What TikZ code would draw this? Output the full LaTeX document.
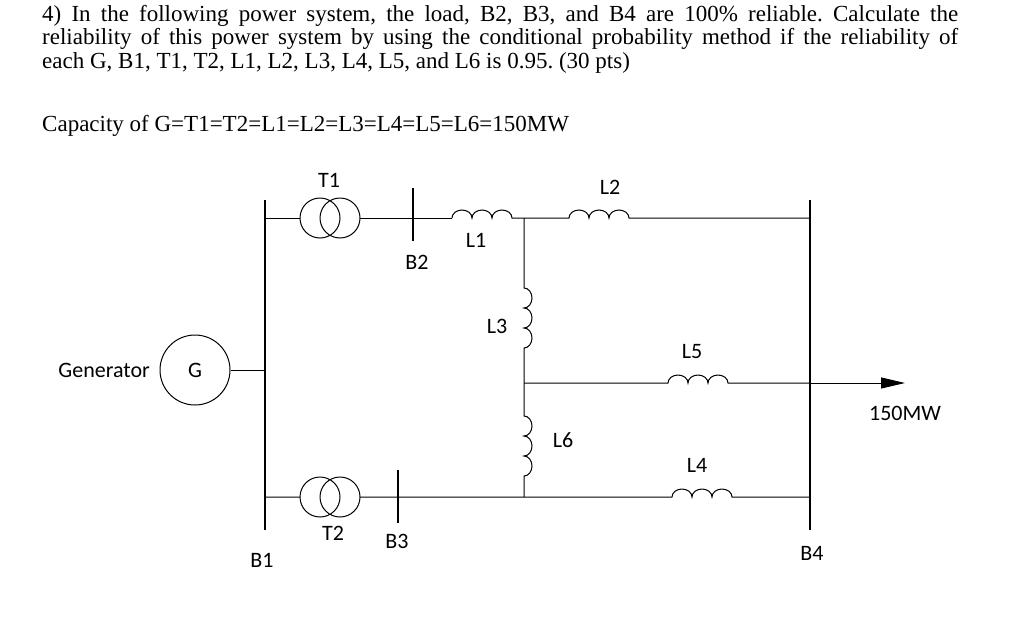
\documentclass[tikz,border=0pt]{standalone}
\usepackage{fontspec}
\setmainfont{Liberation Serif}
\newfontfamily\lbl{Carlito}
\usetikzlibrary{arrows.meta}
\frenchspacing
\begin{document}
\begin{tikzpicture}[x=1pt,y=-1pt,
  bus/.style={line width=2.4pt},
  wire/.style={line width=1pt},
  lab/.style={font=\lbl\fontsize{22}{22}\selectfont,inner sep=0pt},
  hdr/.style={anchor=north west,inner sep=0pt,font=\fontsize{23}{23.5}\selectfont,align=justify,text width=916pt}]
\useasboundingbox (0,0) rectangle (1024,621);
\node[hdr] (h) at (42,5) {4) In the following power system, the load, B2, B3, and B4 are 100\% reliable. Calculate the\linebreak reliability of this power system by using the conditional probability method if the reliability of\linebreak each G, B1, T1, T2, L1, L2, L3, L4, L5, and L6 is 0.95. (30 pts)};
\node[anchor=west,inner sep=0pt,font=\fontsize{23}{23.5}\selectfont] (cap) at (42,126) {Capacity of G=T1=T2=L1=L2=L3=L4=L5=L6=150MW};
% buses
\draw[bus] (265,200) coordinate (b1t) -- (265,530) coordinate (b1b);
\draw[bus] (810,200) -- (810,530);
\draw[bus] (413,188) -- (413,241);
\draw[bus] (398,470) -- (398,523);
% generator
\node[draw,wire,circle,minimum size=70pt,inner sep=0pt,lab] (G) at (195,370) {G};
\node[lab,anchor=east] (gen) at (150,370) {Generator};
\draw[wire] (G.east) -- (265,370);
% T1
\draw[wire] (320,218) circle (20) (340,218) circle (20);
\draw[wire] (265,218) -- (300,218) (360,218) -- (452,218);
% L1, L2
\draw[wire] (452,218) arc (180:360:10 and 8) arc (180:360:10 and 8) arc (180:360:10 and 8) -- (569,218)
  arc (180:360:10 and 8) arc (180:360:10 and 8) arc (180:360:10 and 8) -- (810,218);
% L3, L6
\draw[wire] (524,218) -- (524,288) arc (270:450:8 and 10) arc (270:450:8 and 10) arc (270:450:8 and 10) -- (524,416)
  arc (270:450:8 and 10) arc (270:450:8 and 10) arc (270:450:8 and 10) -- (524,497);
% L5
\draw[wire] (524,383) -- (668,383) arc (180:360:10 and 8) arc (180:360:10 and 8) arc (180:360:10 and 8) -- (810,383);
\draw[wire,-{Triangle[length=24pt,width=11pt]}] (810,383) -- (905,383);
% T2 and L4
\draw[wire] (320,497) circle (20) (340,497) circle (20);
\draw[wire] (265,497) -- (300,497) (360,497) -- (672,497) arc (180:360:10 and 8) arc (180:360:10 and 8) arc (180:360:10 and 8) -- (810,497);
% labels
\node[lab] at (329,180) {T1};
\node[lab] at (610,187) {L2};
\node[lab] at (476,240) {L1};
\node[lab] at (417,262) {B2};
\node[lab] at (497,326) {L3};
\node[lab] at (692,352) {L5};
\node[lab] at (905,413) {150MW};
\node[lab] at (563,440) {L6};
\node[lab] at (697,465) {L4};
\node[lab] at (333,533) {T2};
\node[lab] at (397,541) {B3};
\node[lab] at (262,560) {B1};
\node[lab] at (812,553) {B4};
\end{tikzpicture}
\end{document}
